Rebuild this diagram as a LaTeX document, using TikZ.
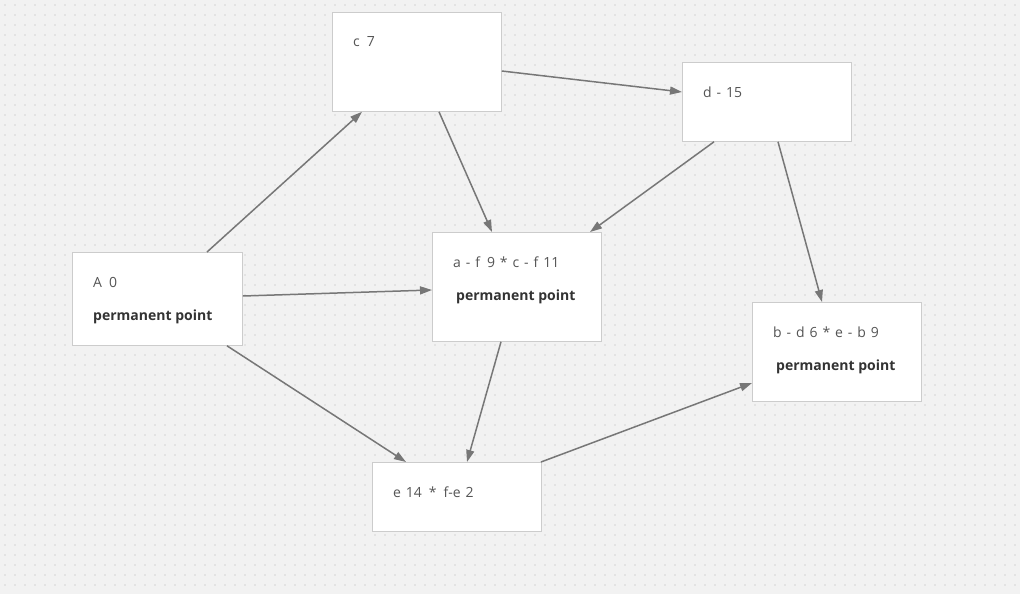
\documentclass[tikz,border=0pt]{standalone}
\usepackage{fontspec}
\setmainfont{Open Sans}
\newfontfamily\rfont[WordSpace=1.35]{Open Sans}
\usetikzlibrary{arrows.meta}
\definecolor{bg}{HTML}{F2F2F2}
\definecolor{dotc}{HTML}{E3E3E3}
\definecolor{boxline}{HTML}{CCCCCC}
\definecolor{arrowc}{HTML}{777777}
\definecolor{txt}{HTML}{555555}
\definecolor{btxt}{HTML}{333333}
\tikzset{
  box/.style={draw=boxline, fill=white, line width=0.8pt, inner sep=0pt, anchor=north west},
  lbl/.style={anchor=base west, inner sep=0pt, text=txt, font=\rfont\fontsize{14}{16}\selectfont},
  blbl/.style={anchor=base west, inner sep=0pt, text=btxt, font=\fontsize{14}{16}\selectfont\bfseries},
  conn/.style={draw=arrowc, line width=1.5pt, -{Triangle[length=12pt,width=8pt]}}
}
\begin{document}
\begin{tikzpicture}[x=1pt,y=-1pt]
\useasboundingbox (0,0) rectangle (1020,594);
\fill[bg] (0,0) rectangle (1020,594);
\foreach \i in {0,...,101}{
  \foreach \j in {0,...,59}{
    \fill[dotc] (\i*10+4.4,\j*10+4.4) rectangle ++(1.2,1.2);
  }
}
% boxes
\node[box, minimum width=170pt, minimum height=93pt] (A) at (72,252) {};
\node[box, minimum width=169pt, minimum height=99pt] (C) at (332,12) {};
\node[box, minimum width=169pt, minimum height=79pt] (D) at (682,62) {};
\node[box, minimum width=169pt, minimum height=109pt] (F) at (432,232) {};
\node[box, minimum width=169pt, minimum height=99pt] (B) at (752,302) {};
\node[box, minimum width=169pt, minimum height=69pt] (E) at (372,462) {};
% texts
\node[lbl] (At) at (93,287) {A\enspace 0};
\node[blbl] (Ap) at (93,320) {permanent point};
\node[lbl] (Ct) at (353,47) {c\enspace 7};
\node[lbl] (Dt) at (703,97) {d - 15};
\node[lbl] (Ft) at (453,267) {a - f\enspace 9 * c - f 11};
\node[blbl] (Fp) at (456,300) {permanent point};
\node[lbl] (Bt) at (773,337) {b - d 6 * e - b 9};
\node[blbl] (Bp) at (776,370) {permanent point};
\node[lbl] (Et) at (393,497) {e 14\enspace *\enspace f-e 2};
% connectors
\draw[conn] ([xshift=135pt]A.north west) -- ([xshift=30pt]C.south west);
\draw[conn] ([yshift=-44pt]A.north east) -- ([yshift=-58pt]F.north west);
\draw[conn] ([xshift=155pt]A.south west) -- ([xshift=34pt]E.north west);
\draw[conn] ([yshift=-59pt]C.north east) -- ([yshift=-30pt]D.north west);
\draw[conn] ([xshift=107pt]C.south west) -- ([xshift=60pt]F.north west);
\draw[conn] ([xshift=32pt]D.south west) -- ([xshift=158pt]F.north west);
\draw[conn] ([xshift=96pt]D.south west) -- ([xshift=70pt]B.north west);
\draw[conn] ([xshift=69pt]F.south west) -- ([xshift=95pt]E.north west);
\draw[conn] ([xshift=169pt]E.north west) -- ([yshift=-81pt]B.north west);
\end{tikzpicture}
\end{document}
